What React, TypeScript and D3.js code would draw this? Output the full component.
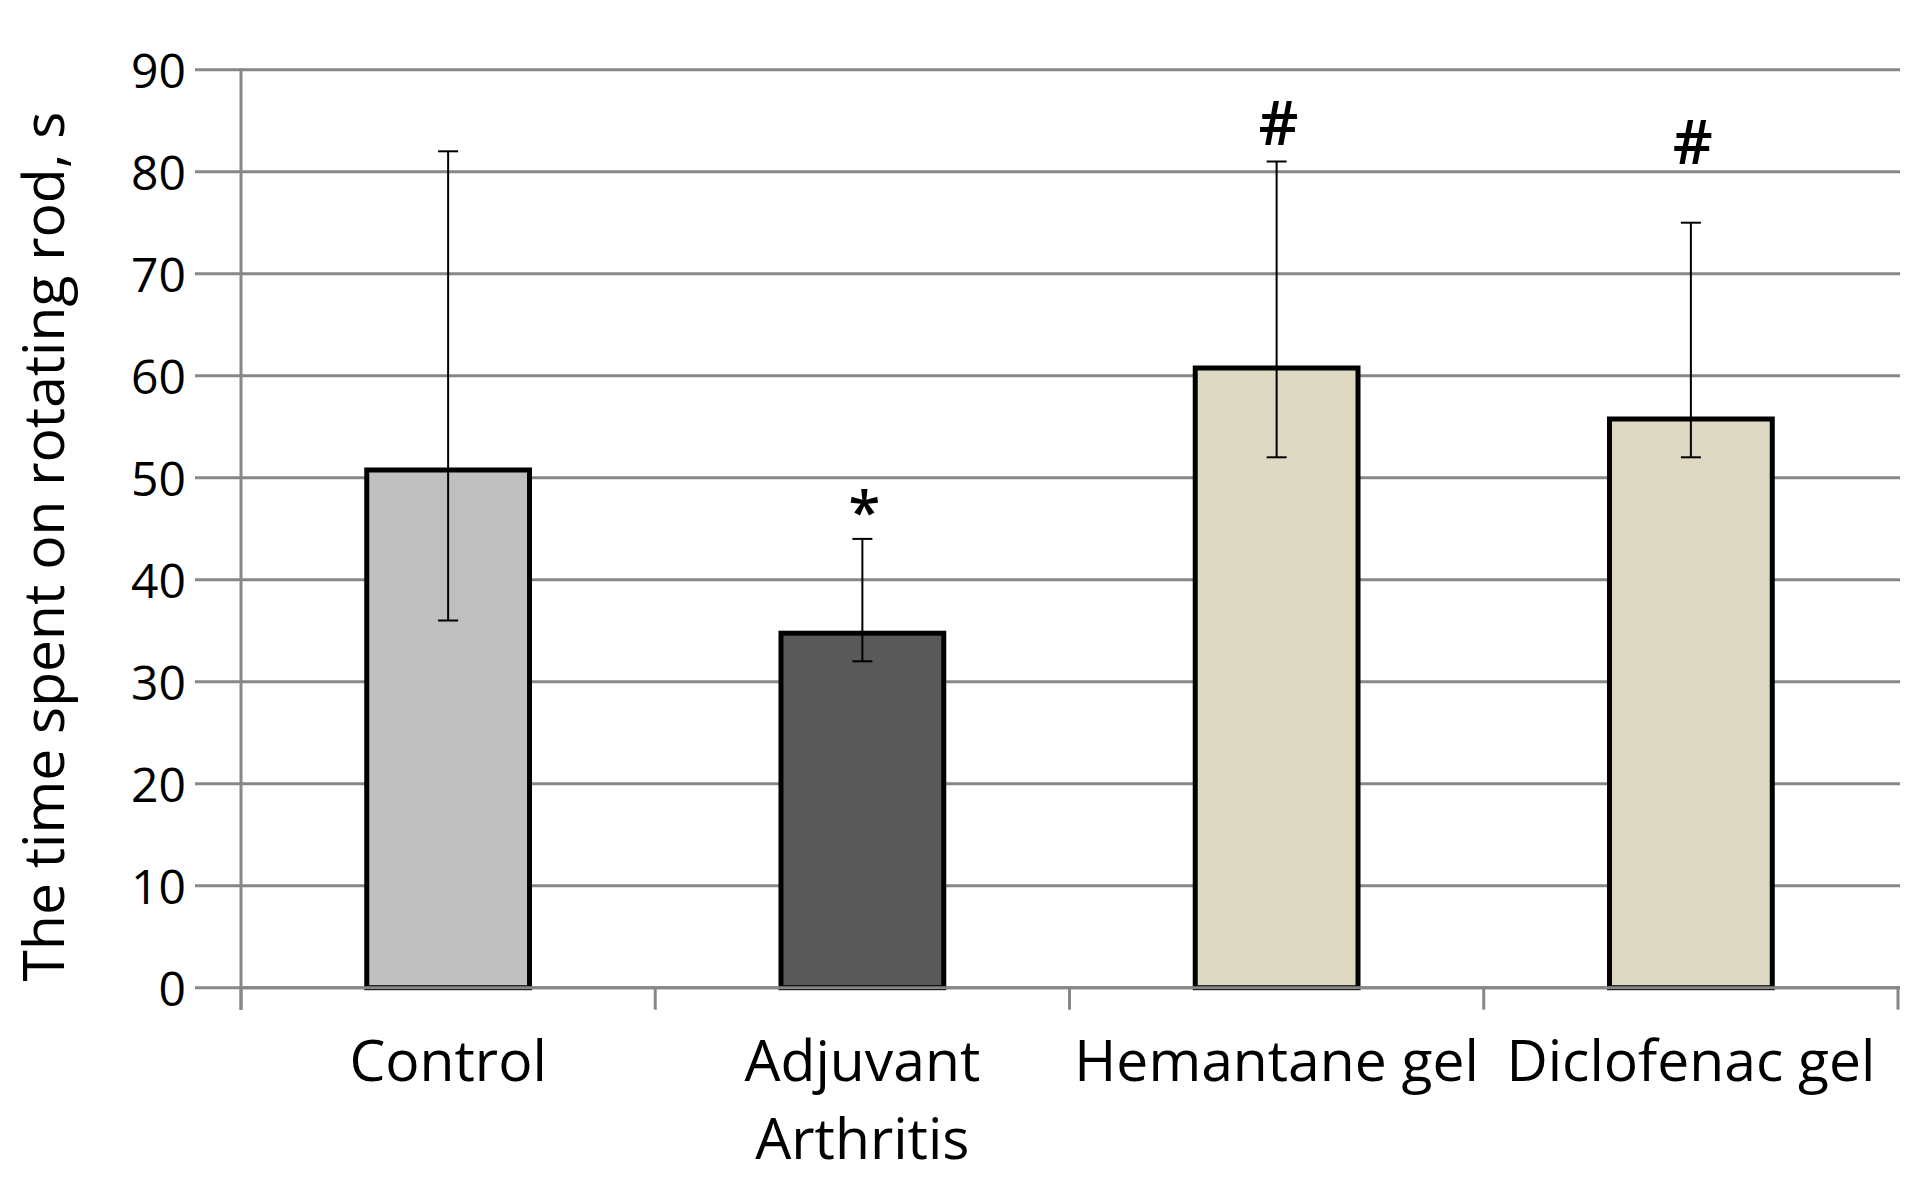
import React from "react";
import * as d3 from "d3";

const categories: string[][] = [["Control"], ["Adjuvant", "Arthritis"], ["Hemantane gel"], ["Diclofenac gel"]];
const means: number[] = [51, 35, 61, 56];
const errLow: number[] = [36, 32, 52, 52];
const errHigh: number[] = [82, 44, 81, 75];
const barColors: string[] = ["#BFBFBF", "#595959", "#DDD9C3", "#DDD9C3"];
const marks: string[] = ["", "*", "#", "#"];
const markPos: number[] = [0, 44.6, 82.6, 80.8];
const yTicks: number[] = [0, 10, 20, 30, 40, 50, 60, 70, 80, 90];
const yTitle = "The time spent on rotating rod, s";

const W = 1913;
const H = 1177;
const FONT = "'Open Sans', Calibri, sans-serif";

export default function App() {
  const left = 241;
  const right = 1898;
  const top = 69.7;
  const bottom = 987.7;
  const idx = categories.map((_, i) => String(i));
  const x = d3.scaleBand<string>().domain(idx).range([left, right]).paddingInner(0).paddingOuter(0);
  const y = d3.scaleLinear().domain([0, 90]).range([bottom, top]);
  const bw = x.bandwidth() * 0.405;
  const grid = "#878787";

  return (
    <svg width={W} height={H} style={{ position: "absolute", left: 0, top: 0, display: "block", background: "#fff" }}>
      <rect x={0} y={0} width={W} height={H} fill="#fff" />
      {/* gridlines + left ticks */}
      {yTicks.map((t) => (
        <g key={t}>
          <line x1={195} x2={right + 2} y1={y(t)} y2={y(t)} stroke={grid} strokeWidth={3} />
          <text
            x={186}
            y={y(t)}
            textAnchor="end"
            dominantBaseline="central"
            fontFamily={FONT}
            fontSize={48}
            fill="#000"
          >
            {t}
          </text>
        </g>
      ))}
      {/* y axis line */}
      <line x1={left} x2={left} y1={top - 1.5} y2={bottom + 22} stroke={grid} strokeWidth={3} />
      {/* bars */}
      {means.map((m, i) => {
        const cx = (x(String(i)) as number) + x.bandwidth() / 2;
        return (
          <rect
            key={i}
            x={cx - bw / 2 + 2.5}
            y={y(m) + 2.5}
            width={bw - 5}
            height={y(0) - y(m) - 2.5}
            fill={barColors[i]}
            stroke="#000"
            strokeWidth={5}
          />
        );
      })}
      {/* x axis */}
      <line x1={left} x2={right + 2} y1={bottom} y2={bottom} stroke={grid} strokeWidth={3} />
      {idx.concat(["end"]).map((k, i) => {
        const xx = k === "end" ? right : (x(k) as number);
        return <line key={i} x1={xx} x2={xx} y1={bottom} y2={bottom + 22} stroke={grid} strokeWidth={3} />;
      })}
      {/* error bars */}
      {means.map((m, i) => {
        const cx = (x(String(i)) as number) + x.bandwidth() / 2;
        return (
          <g key={i} stroke="#000" strokeWidth={2}>
            <line x1={cx} x2={cx} y1={y(errLow[i])} y2={y(errHigh[i])} />
            <line x1={cx - 10} x2={cx + 10} y1={y(errHigh[i])} y2={y(errHigh[i])} />
            <line x1={cx - 10} x2={cx + 10} y1={y(errLow[i])} y2={y(errLow[i])} />
          </g>
        );
      })}
      {/* significance marks */}
      {marks.map((s, i) =>
        s ? (
          <text
            key={i}
            x={(x(String(i)) as number) + x.bandwidth() / 2 + 2}
            y={y(markPos[i])}
            textAnchor="middle"
            fontFamily={FONT}
            fontWeight={600}
            fontSize={s === "*" ? 58 : 62}
            fill="#000"
          >
            {s}
          </text>
        ) : null
      )}
      {/* category labels */}
      {categories.map((lines, i) => {
        const cx = (x(String(i)) as number) + x.bandwidth() / 2;
        return (
          <text key={i} x={cx} y={1081} textAnchor="middle" fontFamily={FONT} fontSize={57} fill="#000">
            {lines.map((l, j) => (
              <tspan key={j} x={cx} dy={j === 0 ? 0 : 78}>
                {l}
              </tspan>
            ))}
          </text>
        );
      })}
      {/* y title */}
      <text
        transform={`translate(64, ${(116 + 977) / 2}) rotate(-90)`}
        textAnchor="middle"
        fontFamily={FONT}
        fontSize={57}
        fill="#000"
      >
        {yTitle}
      </text>
    </svg>
  );
}
